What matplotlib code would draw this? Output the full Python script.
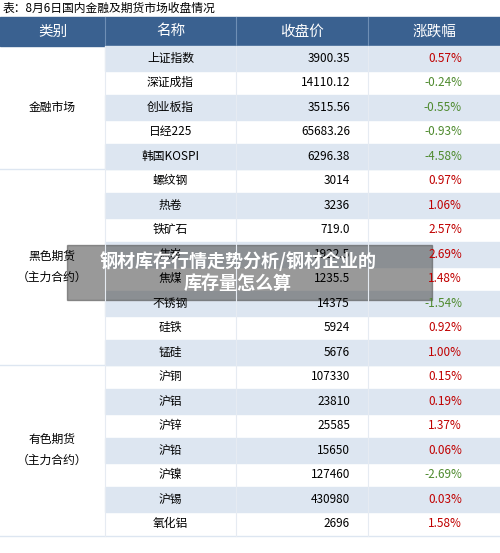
import matplotlib.pyplot as plt
from matplotlib.patches import Rectangle

plt.rcParams['font.family'] = ['Noto Sans CJK SC', 'DejaVu Sans']

title = "表：8月6日国内金融及期货市场收盘情况"
headers = ["类别", "名称", "收盘价", "涨跌幅"]
groups = [("金融市场", 5), ("黑色期货\n（主力合约）", 8), ("有色期货\n（主力合约）", 7)]
names = ["上证指数", "深证成指", "创业板指", "日经225", "韩国KOSPI",
         "螺纹钢", "热卷", "铁矿石", "焦炭", "焦煤", "不锈钢", "硅铁", "锰硅",
         "沪铜", "沪铝", "沪锌", "沪铅", "沪镍", "沪锡", "氧化铝"]
prices = ["3900.35", "14110.12", "3515.56", "65683.26", "6296.38",
          "3014", "3236", "719.0", "1922.5", "1235.5", "14375", "5924", "5676",
          "107330", "23810", "25585", "15650", "127460", "430980", "2696"]
changes = [0.57, -0.24, -0.55, -0.93, -4.58,
           0.97, 1.06, 2.57, 2.69, 1.48, -1.54, 0.92, 1.00,
           0.15, 0.19, 1.37, 0.06, -2.69, 0.03, 1.58]

W, H = 500, 553
fig = plt.figure(figsize=(5, 5.53), dpi=100)
ax = fig.add_axes([0, 0, 1, 1])
ax.set_xlim(0, W)
ax.set_ylim(H, 0)
ax.axis("off")

cols = [0, 105, 236, 368, 500]
top, hh, rh = 17, 29, 24.5
ax.text(3, 8, title, fontsize=8.5, va="center", ha="left")

ax.add_patch(Rectangle((0, top), W, hh, color="#3a6190"))
for i, h in enumerate(headers):
    ax.text((cols[i] + cols[i + 1]) / 2, top + hh / 2, h, color="white",
            fontsize=10.5, ha="center", va="center")
for c in cols[1:-1]:
    ax.plot([c, c], [top, top + hh], color="#6f8fb5", lw=0.8)

y0 = top + hh
for r, (n, p, ch) in enumerate(zip(names, prices, changes)):
    y = y0 + r * rh
    if r % 2 == 0:
        ax.add_patch(Rectangle((cols[1], y), W - cols[1], rh, color="#dde6f1"))
    yc = y + rh / 2
    ax.text((cols[1] + cols[2]) / 2, yc, n, fontsize=8.5, ha="center", va="center")
    ax.text(350, yc, p, fontsize=8.5, ha="right", va="center")
    ax.text(462, yc, "%.2f%%" % ch, fontsize=8.5, ha="right", va="center",
            color="#c00000" if ch >= 0 else "#4e8a2e")

r0 = 0
for g, n in groups:
    ya, yb = y0 + r0 * rh, y0 + (r0 + n) * rh
    ax.text(52, (ya + yb) / 2, g, fontsize=8.5, ha="center", va="center", linespacing=1.8)
    ax.plot([0, W], [yb, yb], color="#dde6f1", lw=1)
    r0 += n
for c in cols[1:-1]:
    ax.plot([c, c], [y0, y0 + len(names) * rh], color="#e6ebf2", lw=0.8)

# overlay caption
ax.add_patch(Rectangle((67, 245), 365, 55, color="#555555", alpha=0.6))
ax.text(238, 272, "钢材库存行情走势分析/钢材企业的\n库存量怎么算", color="white",
        fontsize=13, fontweight="bold", ha="center", va="center", linespacing=1.2)

fig.savefig("out.png", dpi=100)
